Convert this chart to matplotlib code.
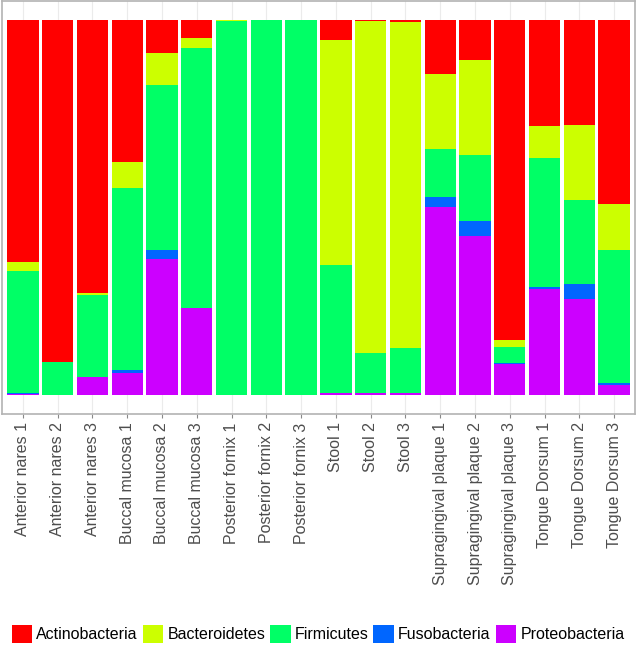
import numpy as np
import matplotlib
matplotlib.use('Agg')
import matplotlib.pyplot as plt
from matplotlib.patches import Patch

samples = ['Anterior nares 1', 'Anterior nares 2', 'Anterior nares 3',
           'Buccal mucosa 1', 'Buccal mucosa 2', 'Buccal mucosa 3',
           'Posterior fornix 1', 'Posterior fornix 2', 'Posterior fornix 3',
           'Stool 1', 'Stool 2', 'Stool 3',
           'Supragingival plaque 1', 'Supragingival plaque 2', 'Supragingival plaque 3',
           'Tongue Dorsum 1', 'Tongue Dorsum 2', 'Tongue Dorsum 3']

# relative abundance per phylum (stacked bottom -> top)
proteobacteria = [0.004, 0.0, 0.048, 0.059, 0.364, 0.231, 0.0, 0.0, 0.0,
                  0.007, 0.007, 0.005, 0.500, 0.425, 0.084, 0.283, 0.256, 0.027]
fusobacteria = [0.001, 0.0, 0.0, 0.008, 0.024, 0.0, 0.0, 0.0, 0.0,
                0.0, 0.0, 0.0, 0.027, 0.040, 0.002, 0.005, 0.039, 0.005]
firmicutes = [0.325, 0.088, 0.219, 0.486, 0.439, 0.694, 0.997, 1.0, 1.0,
              0.339, 0.106, 0.121, 0.129, 0.176, 0.043, 0.345, 0.226, 0.356]
bacteroidetes = [0.026, 0.0, 0.006, 0.069, 0.085, 0.026, 0.002, 0.0, 0.0,
                 0.601, 0.883, 0.869, 0.199, 0.253, 0.017, 0.083, 0.198, 0.120]
actinobacteria = [0.644, 0.912, 0.727, 0.378, 0.088, 0.049, 0.001, 0.0, 0.0,
                  0.053, 0.004, 0.005, 0.145, 0.106, 0.854, 0.284, 0.281, 0.492]

phyla = ['Actinobacteria', 'Bacteroidetes', 'Firmicutes', 'Fusobacteria', 'Proteobacteria']
colors = {'Actinobacteria': '#FF0000', 'Bacteroidetes': '#CCFF00', 'Firmicutes': '#00FF66',
          'Fusobacteria': '#0066FF', 'Proteobacteria': '#CC00FF'}
stack = [('Proteobacteria', proteobacteria), ('Fusobacteria', fusobacteria),
         ('Firmicutes', firmicutes), ('Bacteroidetes', bacteroidetes),
         ('Actinobacteria', actinobacteria)]

plt.rcParams['font.family'] = ['Liberation Sans', 'DejaVu Sans']

fig = plt.figure(figsize=(6.36, 6.53), dpi=100)
ax = fig.add_axes([2 / 636, 1 - 414 / 653, 633 / 636, 413 / 653])

x = np.arange(len(samples))
bottom = np.zeros(len(samples))
for name, vals in stack:
    vals = np.array(vals, dtype=float)
    ax.bar(x, vals, bottom=bottom, width=0.9, color=colors[name], linewidth=0, zorder=2)
    bottom += vals

ax.set_xlim(-0.6, len(samples) - 0.4)
ax.set_ylim(-0.05, 1.05)
ax.set_yticks([])
ax.set_xticks(x)
ax.set_xticklabels(samples, rotation=90, fontsize=11.5, color='#4d4d4d')
ax.tick_params(axis='x', length=3, color='#888888', pad=3)
for xi in x:
    ax.axvline(xi, color='#ebebeb', linewidth=0.8, zorder=0)
for side in ax.spines.values():
    side.set_color('#b3b3b3')
    side.set_linewidth(1.2)

handles = [Patch(facecolor=colors[p], edgecolor='none', label=p) for p in phyla]
fig.legend(handles=handles, loc='center', bbox_to_anchor=(0.5, 1 - 634 / 653), ncol=5,
           frameon=False, fontsize=11.5, handlelength=1.3, handleheight=1.3,
           handletextpad=0.25, columnspacing=0.3)

fig.savefig('out.png', dpi=100)
